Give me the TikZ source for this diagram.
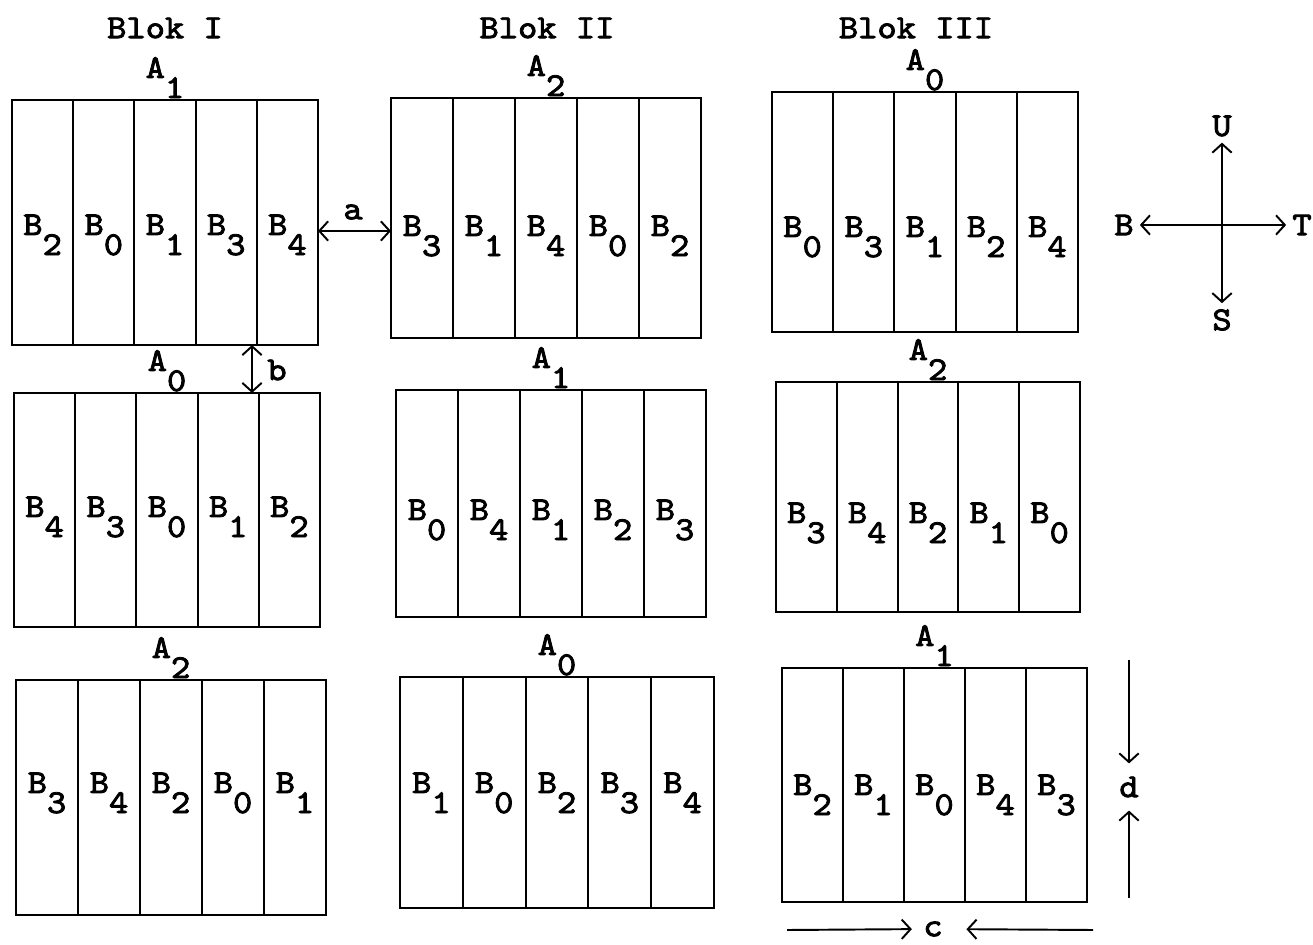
\documentclass[tikz,border=0pt]{standalone}
\usepackage{fontspec}
\setmainfont{lmmono10-regular.otf}[FakeStretch=1.1,FakeBold=2.5]
\usetikzlibrary{arrows.meta}
\newcommand{\sbs}[2]{#1\raisebox{-0.6em}{#2}}

\begin{document}
\begin{tikzpicture}[x=0.02cm,y=-0.02cm,line width=1.1pt,
    >={Straight Barb[length=5pt,width=11pt]},
    every node/.style={font=\fontsize{19}{22}\selectfont,inner sep=3pt},
    lbl/.style={anchor=base}]
  \useasboundingbox (0,0) rectangle (1313,945);
  % block titles
  \node (blok1) at (165,28) {Blok I};
  \node (blok2) at (547,28) {Blok II};
  \node (blok3) at (916,28) {Blok III};
  % plots: name/left/top/right/bottom/A/B order/B baseline
  \foreach \n/\xa/\ya/\xb/\yb/\A/\Bs/\yl in {
      p11/12/100/318/345/1/{2,0,1,3,4}/235,
      p12/14/393/320/627/0/{4,3,0,1,2}/517,
      p13/16/680/326/915/2/{3,4,2,0,1}/793,
      p21/391/98/701/338/2/{3,1,4,0,2}/236,
      p22/396/390/706/617/1/{0,4,1,2,3}/520,
      p23/400/677/714/908/0/{1,0,2,3,4}/793,
      p31/772/92/1078/332/0/{0,3,1,2,4}/237,
      p32/776/382/1080/612/2/{3,4,2,1,0}/523,
      p33/782/668/1087/902/1/{2,1,0,4,3}/795} {
    \draw (\xa,\ya) rectangle (\xb,\yb);
    \foreach \k in {1,...,4}
      \draw ({\xa+\k*(\xb-\xa)/5},\ya) -- ({\xa+\k*(\xb-\xa)/5},\yb);
    \foreach \bb [count=\k] in \Bs
      \node[lbl] (\n-b\k) at ({\xa+(\k-0.5)*(\xb-\xa)/5},\yl) {\sbs{B}{\bb}};
    \node[lbl] (\n-a) at ({(\xa+\xb)/2},\ya-22) {\sbs{A}{\A}};
  }
  % spacing a and b
  \coordinate (a1) at (318,231);
  \coordinate (a2) at (391,231);
  \draw[<->] (a1) -- (a2);
  \node (alabel) at (353,212) {a};
  \coordinate (b1) at (252,345);
  \coordinate (b2) at (252,393);
  \draw[<->] (b1) -- (b2);
  \node (blabel) at (277,370) {b};
  % compass
  \coordinate (ctr) at (1222,225);
  \node (north) at (1222,126) {U};
  \node (south) at (1222,320) {S};
  \node (west) at (1124,225) {B};
  \node (east) at (1302,225) {T};
  \draw[->] (ctr) -- (north);
  \draw[->] (ctr) -- (south);
  \draw[->] (ctr) -- (west);
  \draw[->] (ctr) -- (east);
  % plot size c and d
  \coordinate (dtop) at (1129,660);
  \coordinate (dbot) at (1129,898);
  \node (dlabel) at (1129,787) {d};
  \draw[->,shorten >=4pt] (dtop) -- (dlabel);
  \draw[->,shorten >=4pt] (dbot) -- (dlabel);
  \coordinate (cleft) at (787,930);
  \coordinate (cright) at (1093,930);
  \node[inner sep=1pt] (clabel) at (933,929) {c};
  \draw[->,shorten >=5pt] (cleft) -- (clabel);
  \draw[->,shorten >=12pt] (cright) -- (clabel);
\end{tikzpicture}
\end{document}
